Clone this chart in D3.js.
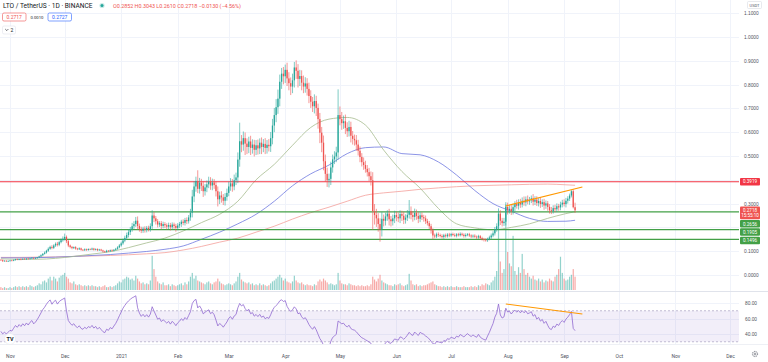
<!DOCTYPE html>
<html>
<head>
<meta charset="utf-8">
<script src="https://cdn.jsdelivr.net/npm/d3@7"></script>
<style>
  body { margin: 0; background: #fff; }
  svg { display: block; font-family: Roboto, "Noto Sans", sans-serif; }
</style>
</head>
<body>
<svg id="chart" width="768" height="362"></svg>
<script>
// LTO / USDT daily, Oct 27 2020 -> Sep 7 2021
const startDay = Date.UTC(2020, 9, 27);
const firstOpen = 0.064;

// closes, one row per week
const closes = [
  0.062, 0.058, 0.060, 0.057, 0.059, 0.061, 0.060,
  0.063, 0.066, 0.064, 0.067, 0.065, 0.068, 0.066,
  0.069, 0.067, 0.070, 0.072, 0.069, 0.071, 0.074,
  0.078, 0.083, 0.089, 0.094, 0.102, 0.110, 0.118,
  0.114, 0.124, 0.131, 0.127, 0.138, 0.146, 0.152,
  0.160, 0.142, 0.124, 0.118, 0.113, 0.117, 0.111,
  0.108, 0.112, 0.106, 0.104, 0.108, 0.105, 0.109,
  0.107, 0.111, 0.106, 0.109, 0.104, 0.107, 0.103,
  0.099, 0.097, 0.102, 0.100, 0.104, 0.102, 0.106,
  0.110, 0.116, 0.124, 0.133, 0.145, 0.156, 0.168,
  0.180, 0.192, 0.205, 0.214, 0.228, 0.206, 0.194,
  0.186, 0.195, 0.189, 0.198, 0.192, 0.205, 0.250,
  0.238, 0.226, 0.212, 0.218, 0.206, 0.214, 0.209,
  0.203, 0.210, 0.201, 0.212, 0.206, 0.198, 0.208,
  0.214, 0.224, 0.219, 0.231, 0.226, 0.242, 0.262,
  0.330, 0.372, 0.395, 0.362, 0.388, 0.375, 0.352,
  0.368, 0.381, 0.393, 0.376, 0.389, 0.378, 0.352,
  0.318, 0.334, 0.326, 0.312, 0.328, 0.345, 0.372,
  0.385, 0.372, 0.398, 0.410, 0.485, 0.562, 0.548,
  0.575, 0.552, 0.538, 0.561, 0.534, 0.548, 0.526,
  0.545, 0.532, 0.556, 0.538, 0.551, 0.534, 0.547,
  0.541, 0.575, 0.628, 0.672, 0.705, 0.741, 0.812,
  0.846, 0.835, 0.862, 0.826, 0.806, 0.792, 0.818,
  0.872, 0.858, 0.824, 0.836, 0.808, 0.792, 0.805,
  0.782, 0.752, 0.728, 0.709, 0.731, 0.702, 0.655,
  0.598, 0.556, 0.478, 0.425, 0.398, 0.404, 0.452,
  0.486, 0.498, 0.515, 0.672, 0.655, 0.638, 0.646,
  0.618, 0.604, 0.622, 0.585, 0.572, 0.566, 0.548,
  0.522, 0.496, 0.474, 0.462, 0.446, 0.432, 0.415,
  0.398, 0.268, 0.252, 0.238, 0.214, 0.192, 0.236,
  0.228, 0.246, 0.258, 0.234, 0.226, 0.238, 0.252,
  0.244, 0.238, 0.256, 0.249, 0.232, 0.241, 0.253,
  0.268, 0.252, 0.244, 0.261, 0.248, 0.236, 0.251,
  0.243, 0.238, 0.226, 0.218, 0.205, 0.188, 0.166,
  0.162, 0.171, 0.168, 0.164, 0.160, 0.167, 0.163,
  0.170, 0.166, 0.172, 0.168, 0.165, 0.171, 0.167,
  0.173, 0.169, 0.164, 0.168, 0.171, 0.166, 0.162,
  0.165, 0.161, 0.158, 0.163, 0.155, 0.151, 0.148,
  0.146, 0.152, 0.158, 0.166, 0.175, 0.192, 0.205,
  0.258, 0.228, 0.218, 0.224, 0.286, 0.272, 0.278,
  0.268, 0.285, 0.298, 0.291, 0.304, 0.296, 0.312,
  0.305, 0.318, 0.309, 0.314, 0.322, 0.308, 0.317,
  0.302, 0.311, 0.298, 0.306, 0.292, 0.301, 0.286,
  0.272, 0.268, 0.281, 0.276, 0.289, 0.284, 0.296,
  0.304, 0.298, 0.312, 0.321, 0.334, 0.352, 0.2848,
  0.2718
];

// wick lengths above / below the body, in thousandths
const upperWick = [
  2, 3, 2, 2, 3, 2, 2,   3, 2, 3, 2, 3, 2, 3,   2, 3, 2, 3, 2, 3, 2,
  3, 4, 3, 5, 4, 6, 5,   7, 5, 6, 8, 6, 7, 10,  14, 6, 5, 4, 4, 3, 4,
  3, 4, 3, 3, 4, 3, 3,   3, 4, 3, 3, 3, 3, 3,   3, 3, 4, 3, 3, 4, 3,
  4, 5, 6, 7, 8, 9, 10,  12, 10, 14, 12, 16, 18, 10,  9, 8, 10, 8, 9, 12, 22,
  14, 10, 9, 8, 9, 10, 8,  8, 10, 9, 9, 8, 9, 10,  9, 8, 10, 9, 11, 10, 16,
  28, 22, 18, 45, 20, 16, 18,  14, 16, 20, 18, 16, 14, 15,  20, 16, 18, 14, 16, 18, 20,
  22, 18, 24, 20, 30, 78, 26,  28, 24, 22, 20, 24, 22, 20,  22, 24, 18, 22, 20, 24, 20,
  24, 26, 28, 30, 34, 38, 30,  24, 28, 22, 30, 26, 24, 28,  23, 30, 28, 26, 24, 30, 26,
  22, 26, 24, 20, 28, 22, 18,  26, 24, 30, 28, 26, 22, 24,  20, 22, 24, 108, 36, 30, 24,
  28, 24, 26, 22, 20, 18, 22,  20, 18, 16, 20, 18, 16, 18,  20, 34, 30, 26, 22, 24, 28,
  18, 16, 14, 20, 14, 16, 18,  14, 18, 16, 14, 16, 14, 20,  47, 20, 16, 18, 14, 16, 12,
  12, 10, 12, 10, 9, 10, 8,  8, 7, 8, 6, 7, 6, 7,  6, 7, 5, 6, 7, 5, 6,
  6, 5, 6, 7, 5, 6, 5,  5, 6, 5, 6, 5, 6, 5,  6, 5, 7, 8, 9, 10, 12,
  22, 14, 12, 16, 20, 18, 16,  16, 14, 12, 18, 14, 16, 14,  18, 12, 16, 14, 12, 18, 14,
  14, 12, 16, 12, 14, 12, 10,  12, 14, 12, 14, 12, 10, 12,  12, 14, 12, 10, 8, 5, 8,
  19
];
const lowerWick = [
  2, 3, 2, 2, 2, 3, 2,   2, 3, 2, 2, 3, 2, 2,   3, 2, 2, 3, 2, 2, 3,
  3, 3, 4, 3, 4, 5, 4,   6, 5, 6, 7, 6, 5, 6,   7, 8, 7, 6, 5, 4, 5,
  4, 3, 4, 3, 3, 4, 3,   3, 3, 4, 3, 4, 3, 3,   4, 3, 3, 3, 3, 3, 3,
  3, 4, 4, 5, 6, 7, 8,   10, 12, 10, 11, 12, 14, 12,  10, 9, 11, 10, 9, 10, 14,
  16, 14, 12, 10, 14, 10, 12,  12, 10, 14, 10, 12, 16, 10,  10, 12, 10, 11, 12, 10, 14,
  20, 24, 22, 18, 20, 22, 24,  18, 20, 16, 18, 20, 16, 22,  30, 20, 22, 18, 20, 16, 14,
  18, 22, 16, 20, 24, 30, 32,  26, 48, 30, 26, 30, 24, 28,  22, 26, 24, 30, 22, 26, 24,
  22, 24, 26, 28, 30, 28, 32,  30, 34, 28, 32, 30, 36, 28,  30, 34, 36, 30, 32, 28, 26,
  28, 30, 26, 24, 30, 34, 40,  44, 40, 38, 34, 28, 30, 26,  22, 20, 24, 30, 26, 28, 24,
  26, 24, 22, 28, 24, 22, 26,  20, 22, 18, 20, 16, 18, 20,  22, 78, 40, 36, 32, 52, 30,
  24, 20, 18, 26, 22, 18, 20,  18, 16, 20, 22, 18, 16, 14,  16, 18, 20, 14, 16, 18, 14,
  12, 14, 12, 10, 12, 14, 16,  8, 7, 8, 6, 7, 8, 6,  6, 7, 6, 5, 6, 7, 5,
  5, 6, 7, 6, 5, 6, 7,  6, 5, 7, 6, 5, 6, 7,  6, 7, 6, 8, 7, 9, 10,
  16, 18, 14, 12, 16, 18, 14,  16, 14, 18, 12, 16, 14, 12,  14, 16, 12, 14, 12, 16, 14,
  12, 14, 16, 12, 18, 14, 16,  14, 12, 10, 12, 10, 14, 12,  12, 10, 14, 12, 10, 8, 5,
  11
];

// daily volume, millions
const volumes = [
  3, 2, 3, 2, 2, 3, 2,   3, 4, 3, 4, 3, 4, 3,   4, 3, 5, 4, 3, 4, 5,
  7, 6, 9, 10, 8, 12, 14,  10, 14, 12, 9, 13, 15, 16,  18, 14, 12, 8, 7, 9, 6,
  5, 6, 5, 4, 5, 4, 5,   4, 5, 4, 4, 3, 4, 3,   4, 5, 3, 3, 4, 3, 4,
  5, 7, 9, 8, 11, 12, 14,  13, 11, 12, 10, 15, 12, 9,  7, 8, 6, 7, 6, 10, 36,
  22, 14, 9, 7, 6, 8, 5,  5, 6, 4, 6, 5, 4, 5,  6, 7, 5, 8, 6, 9, 14,
  18, 12, 15, 10, 9, 8, 7,  6, 8, 9, 7, 6, 8, 9,  12, 9, 7, 6, 5, 6, 7,
  6, 5, 7, 9, 14, 18, 11,  9, 8, 7, 8, 6, 7, 5,  6, 5, 7, 5, 6, 5, 4,
  5, 7, 9, 10, 12, 14, 16,  13, 10, 12, 9, 8, 7, 9,  15, 10, 8, 7, 8, 6, 5,
  6, 5, 5, 4, 6, 5, 9,  11, 9, 12, 10, 8, 6, 7,  6, 5, 6, 18, 10, 7, 6,
  6, 5, 7, 6, 5, 5, 4,  5, 4, 5, 4, 4, 5, 4,  6, 14, 11, 9, 12, 16, 10,
  8, 7, 6, 5, 5, 4, 6,  5, 6, 7, 5, 4, 5, 6,  17, 10, 6, 5, 6, 4, 5,
  4, 5, 5, 6, 7, 8, 9,  6, 5, 4, 4, 3, 4, 3,  4, 3, 4, 3, 3, 4, 3,
  3, 3, 4, 3, 3, 3, 4,  3, 4, 3, 5, 4, 6, 5,  7, 6, 5, 8, 10, 14, 20,
  72, 30, 18, 22, 90, 40, 28,  25, 57, 20, 16, 24, 18, 38,  22, 16, 18, 14, 12, 15, 11,
  10, 12, 9, 11, 8, 10, 9,  12, 10, 9, 14, 16, 22, 35,  18, 12, 10, 11, 14, 16, 22,
  14
];

// moving averages read at sample days (day index from start)
const maDays = [0, 10, 20, 30, 40, 50, 60, 70, 80, 90, 100, 110, 120, 130, 140, 150, 160,
  170, 180, 190, 200, 210, 220, 230, 240, 250, 260, 270, 280, 290, 300, 310, 315];
const ma50 = [0.068, 0.066, 0.066, 0.070, 0.078, 0.088, 0.098, 0.115, 0.135, 0.155, 0.185,
  0.220, 0.255, 0.310, 0.400, 0.465, 0.545, 0.620, 0.655, 0.662, 0.630, 0.525, 0.435,
  0.365, 0.280, 0.215, 0.198, 0.190, 0.200, 0.215, 0.238, 0.258, 0.266];
const ma100 = [0.072, 0.072, 0.073, 0.075, 0.078, 0.082, 0.086, 0.092, 0.099, 0.108, 0.122,
  0.150, 0.180, 0.215, 0.255, 0.310, 0.375, 0.425, 0.462, 0.510, 0.535, 0.538, 0.510,
  0.505, 0.475, 0.420, 0.355, 0.300, 0.268, 0.238, 0.225, 0.226, 0.230];
const ma200 = [0.074, 0.074, 0.075, 0.076, 0.078, 0.080, 0.082, 0.085, 0.089, 0.094, 0.105,
  0.120, 0.138, 0.155, 0.180, 0.205, 0.235, 0.262, 0.285, 0.310, 0.335, 0.345, 0.352,
  0.360, 0.366, 0.371, 0.375, 0.377, 0.379, 0.381, 0.382, 0.379, 0.377];

const resistance = [0.3919];
const supports = [0.2656, 0.1905, 0.1496];
const lastPrice = 0.2718;
const priceTrend = [["2021-07-31", 0.290], ["2021-09-11", 0.370]];
const rsiTrend = [["2021-07-31", 78.7], ["2021-09-11", 65.8]];

const monthLabels = ["Nov", "Dec", "2021", "Feb", "Mar", "Apr", "May", "Jun", "Jul", "Aug", "Sep", "Oct", "Nov", "Dec"];
const priceTicks = [0, 0.1, 0.3, 0.5, 0.6, 0.7, 0.8, 0.9, 1.0, 1.1];
const gridTicks = [0, 0.1, 0.2, 0.3, 0.4, 0.5, 0.6, 0.7, 0.8, 0.9, 1.0, 1.1];
const rsiTicks = [80, 60, 40];
const rsiSeed = [0.0018, 0.0022];

const upColor = `#26a69a`;
const downColor = `#ef5350`;
const plotRight = 739;
const mainBottom = 291;
const rsiTop = 292;
const rsiBottom = 344;

const dayDate = i => new Date(startDay + i * 864e5);

const data = closes.map((c, i) => {
    const open = i === 0 ? firstOpen : closes[i - 1];
    return {
        date: dayDate(i),
        open,
        close: c,
        high: Math.max(open, c) + upperWick[i] / 1000,
        low: Math.min(open, c) - lowerWick[i] / 1000,
        volume: volumes[i]
    };
});

// Wilder RSI 14
let avgGain = rsiSeed[0];
let avgLoss = rsiSeed[1];
const rsi = data.map(d => {
    const ch = d.close - d.open;
    avgGain = (avgGain * 13 + Math.max(ch, 0)) / 14;
    avgLoss = (avgLoss * 13 + Math.max(-ch, 0)) / 14;
    return { date: d.date, value: 100 - 100 / (1 + avgGain / avgLoss) };
});

const x = d3.scaleUtc()
    .domain([Date.UTC(2020, 10, 1), Date.UTC(2021, 11, 1)])
    .range([10, 730]);
const y = d3.scaleLinear().domain([0, 1.1]).range([275, 13.2]);
const yVol = d3.scaleLinear().domain([0, 100]).range([290, 195]);
const yRsi = d3.scaleLinear().domain([80, 40]).range([303, 334]);

const svg = d3.select(`#chart`);
const defs = svg.append(`defs`);
defs.append(`clipPath`).attr(`id`, `mainClip`)
    .append(`rect`).attr(`x`, 0).attr(`y`, 0).attr(`width`, plotRight).attr(`height`, mainBottom);
defs.append(`clipPath`).attr(`id`, `rsiClip`)
    .append(`rect`).attr(`x`, 0).attr(`y`, rsiTop).attr(`width`, plotRight).attr(`height`, rsiBottom - rsiTop);

svg.append(`rect`).attr(`width`, 768).attr(`height`, 362).attr(`fill`, `#fff`);

const months = d3.utcMonth.range(Date.UTC(2020, 10, 1), Date.UTC(2021, 11, 2));

// grid
const grid = svg.append(`g`).attr(`stroke`, `#f0f3fa`).attr(`stroke-width`, 1);
grid.selectAll(`.vg`).data(months).enter().append(`line`)
    .attr(`x1`, d => Math.round(x(d)) + 0.5).attr(`x2`, d => Math.round(x(d)) + 0.5)
    .attr(`y1`, 0).attr(`y2`, rsiBottom);
grid.selectAll(`.hg`).data(gridTicks).enter().append(`line`)
    .attr(`x1`, 0).attr(`x2`, plotRight)
    .attr(`y1`, d => Math.round(y(d)) + 0.5).attr(`y2`, d => Math.round(y(d)) + 0.5);
grid.selectAll(`.rg`).data(rsiTicks).enter().append(`line`)
    .attr(`x1`, 0).attr(`x2`, plotRight)
    .attr(`y1`, d => Math.round(yRsi(d)) + 0.5).attr(`y2`, d => Math.round(yRsi(d)) + 0.5);

// main pane
const main = svg.append(`g`).attr(`clip-path`, `url(#mainClip)`);

main.selectAll(`.vol`).data(data).enter().append(`rect`)
    .attr(`x`, d => x(d.date) - 0.6)
    .attr(`width`, 1.2)
    .attr(`y`, d => yVol(d.volume))
    .attr(`height`, d => yVol(0) - yVol(d.volume))
    .attr(`fill`, d => d.close >= d.open ? upColor : downColor)
    .attr(`opacity`, 0.5);

const maLine = vals => d3.line()
    .x((d, i) => x(dayDate(maDays[i])))
    .y(d => y(d))
    .curve(d3.curveMonotoneX)(vals);

main.append(`path`).attr(`d`, maLine(ma200)).attr(`fill`, `none`).attr(`stroke`, `#f4a09a`).attr(`stroke-width`, 0.8);
main.append(`path`).attr(`d`, maLine(ma100)).attr(`fill`, `none`).attr(`stroke`, `#6f78e0`).attr(`stroke-width`, 0.8);
main.append(`path`).attr(`d`, maLine(ma50)).attr(`fill`, `none`).attr(`stroke`, `#a6bb8e`).attr(`stroke-width`, 0.8);

main.selectAll(`.res`).data(resistance).enter().append(`line`)
    .attr(`x1`, 0).attr(`x2`, plotRight).attr(`y1`, d => y(d)).attr(`y2`, d => y(d))
    .attr(`stroke`, `#f23645`).attr(`stroke-width`, 1.2);
main.selectAll(`.sup`).data(supports).enter().append(`line`)
    .attr(`x1`, 0).attr(`x2`, plotRight).attr(`y1`, d => y(d)).attr(`y2`, d => y(d))
    .attr(`stroke`, `#43a047`).attr(`stroke-width`, 1.2);

const candles = main.selectAll(`.candle`).data(data).enter().append(`g`);
candles.append(`line`)
    .attr(`x1`, d => x(d.date)).attr(`x2`, d => x(d.date))
    .attr(`y1`, d => y(d.high)).attr(`y2`, d => y(d.low))
    .attr(`stroke`, d => d.close >= d.open ? upColor : downColor)
    .attr(`stroke-width`, 0.6);
candles.append(`rect`)
    .attr(`x`, d => x(d.date) - 0.65)
    .attr(`width`, 1.3)
    .attr(`y`, d => y(Math.max(d.open, d.close)))
    .attr(`height`, d => Math.max(0.6, Math.abs(y(d.open) - y(d.close))))
    .attr(`fill`, d => d.close >= d.open ? upColor : downColor);

const trendLine = d3.line()
    .x(d => x(new Date(d[0] + `T00:00:00Z`)));
main.append(`path`)
    .attr(`d`, trendLine.y(d => y(d[1]))(priceTrend))
    .attr(`stroke`, `#ff9800`).attr(`stroke-width`, 1.1).attr(`fill`, `none`);

// pane separators
svg.append(`line`).attr(`x1`, 0).attr(`x2`, 768).attr(`y1`, mainBottom + 0.5).attr(`y2`, mainBottom + 0.5)
    .attr(`stroke`, `#e0e3eb`);
svg.append(`line`).attr(`x1`, 0).attr(`x2`, 768).attr(`y1`, rsiBottom + 0.5).attr(`y2`, rsiBottom + 0.5)
    .attr(`stroke`, `#eef0f5`);

// RSI pane
const rsiG = svg.append(`g`).attr(`clip-path`, `url(#rsiClip)`);
rsiG.append(`rect`)
    .attr(`x`, 0).attr(`width`, plotRight)
    .attr(`y`, yRsi(70)).attr(`height`, yRsi(30) - yRsi(70))
    .attr(`fill`, `#7e57c2`).attr(`opacity`, 0.1);
rsiG.selectAll(`.band`).data([70, 30]).enter().append(`line`)
    .attr(`x1`, 0).attr(`x2`, plotRight)
    .attr(`y1`, d => yRsi(d)).attr(`y2`, d => yRsi(d))
    .attr(`stroke`, `#a9a2c0`).attr(`stroke-width`, 0.7).attr(`stroke-dasharray`, `2,2`);
rsiG.append(`path`)
    .attr(`d`, d3.line().x(d => x(d.date)).y(d => yRsi(d.value))(rsi))
    .attr(`fill`, `none`).attr(`stroke`, `#9068d0`).attr(`stroke-width`, 0.8);
rsiG.append(`path`)
    .attr(`d`, trendLine.y(d => yRsi(d[1]))(rsiTrend))
    .attr(`stroke`, `#ff9800`).attr(`stroke-width`, 1.1).attr(`fill`, `none`);

// TV logo
svg.append(`circle`).attr(`cx`, 10).attr(`cy`, 339).attr(`r`, 5.5)
    .attr(`fill`, `#fff`).attr(`stroke`, `#e6e8ee`).attr(`stroke-width`, 0.6);
svg.append(`text`).attr(`x`, 10).attr(`y`, 341).attr(`text-anchor`, `middle`)
    .attr(`font-size`, 5.5).attr(`font-weight`, 700).attr(`fill`, `#131722`).text(`TV`);

// time axis
const xAxis = d3.axisBottom(x)
    .tickValues(months)
    .tickSize(0)
    .tickFormat((d, i) => monthLabels[i]);
const xg = svg.append(`g`).attr(`transform`, `translate(0, 351)`).call(xAxis);
xg.select(`.domain`).remove();
xg.selectAll(`text`).attr(`font-size`, 5).attr(`fill`, `#50535e`).attr(`font-family`, `Roboto, sans-serif`);

// gear icon
svg.append(`circle`).attr(`cx`, 755).attr(`cy`, 354).attr(`r`, 2.6)
    .attr(`fill`, `none`).attr(`stroke`, `#6a6d78`).attr(`stroke-width`, 0.9).attr(`stroke-dasharray`, `1.2,0.6`);
svg.append(`circle`).attr(`cx`, 755).attr(`cy`, 354).attr(`r`, 1)
    .attr(`fill`, `none`).attr(`stroke`, `#6a6d78`).attr(`stroke-width`, 0.7);

// price axis
const yAxis = d3.axisRight(y).tickValues(priceTicks).tickSize(0).tickFormat(d3.format(`.4f`));
const yg = svg.append(`g`).attr(`transform`, `translate(744, 0)`).call(yAxis);
yg.select(`.domain`).remove();
yg.selectAll(`text`).attr(`x`, 0).attr(`font-size`, 4.8).attr(`fill`, `#50535e`);

const rAxis = d3.axisRight(yRsi).tickValues(rsiTicks).tickSize(0).tickFormat(d3.format(`.2f`));
const rg = svg.append(`g`).attr(`transform`, `translate(745, 0)`).call(rAxis);
rg.select(`.domain`).remove();
rg.selectAll(`text`).attr(`x`, 0).attr(`font-size`, 4.8).attr(`fill`, `#50535e`);

// USDT tag
svg.append(`rect`).attr(`x`, 747.5).attr(`y`, 1.5).attr(`width`, 14).attr(`height`, 7)
    .attr(`rx`, 1).attr(`fill`, `#fff`).attr(`stroke`, `#d1d4dc`).attr(`stroke-width`, 0.5);
svg.append(`text`).attr(`x`, 754.5).attr(`y`, 6.7).attr(`text-anchor`, `middle`)
    .attr(`font-size`, 4).attr(`fill`, `#50535e`).text(`USDT`);

// right-side labels, stacked so they do not overlap
const labels = [
    { v: resistance[0], text: [d3.format(`.4f`)(resistance[0])], fill: `#f23645` },
    { v: lastPrice, text: [d3.format(`.4f`)(lastPrice), `15:55:10`], fill: `#ef5350` },
    ...supports.map(s => ({ v: s, text: [d3.format(`.4f`)(s)], fill: `#43a047` }))
].sort((a, b) => y(a.v) - y(b.v));
let lastBottom = -Infinity;
labels.forEach(l => {
    const h = l.text.length === 2 ? 12.7 : 7.5;
    let top = y(l.v) - 3.75;
    if (top < lastBottom + 0.8) top = lastBottom + 0.8;
    l.top = top;
    l.h = h;
    lastBottom = top + h;
});
const lab = svg.selectAll(`.plabel`).data(labels).enter().append(`g`);
lab.append(`rect`)
    .attr(`x`, 740).attr(`width`, 20)
    .attr(`y`, d => d.top).attr(`height`, d => d.h)
    .attr(`rx`, 1).attr(`fill`, d => d.fill);
lab.each(function (d) {
    d3.select(this).selectAll(`text`).data(d.text).enter().append(`text`)
        .attr(`x`, 750).attr(`y`, (t, i) => d.top + 5.5 + i * 5)
        .attr(`text-anchor`, `middle`).attr(`font-size`, 4.6).attr(`fill`, `#fff`)
        .text(t => t);
});

// header
const head = svg.append(`g`);
head.append(`text`).attr(`x`, 3).attr(`y`, 8).attr(`font-size`, 6.6).attr(`fill`, `#131722`)
    .text(`LTO / TetherUS · 1D · BINANCE`);
head.append(`circle`).attr(`cx`, 102).attr(`cy`, 5.5).attr(`r`, 2.6).attr(`fill`, `#26a69a`).attr(`opacity`, 0.25);
head.append(`circle`).attr(`cx`, 102).attr(`cy`, 5.5).attr(`r`, 1.5).attr(`fill`, `#26a69a`);
head.append(`text`).attr(`x`, 113).attr(`y`, 7.8).attr(`font-size`, 5.4).attr(`fill`, `#ef5350`)
    .text(`O0.2852 H0.3043 L0.2610 C0.2718 −0.0130 (−4.56%)`);

head.append(`rect`).attr(`x`, 2.5).attr(`y`, 13).attr(`width`, 23.5).attr(`height`, 8)
    .attr(`rx`, 1.5).attr(`fill`, `#fff`).attr(`stroke`, `#ef5350`).attr(`stroke-width`, 0.6);
head.append(`text`).attr(`x`, 14.2).attr(`y`, 18.9).attr(`text-anchor`, `middle`)
    .attr(`font-size`, 5).attr(`fill`, `#ef5350`).text(`0.2717`);
head.append(`text`).attr(`x`, 37).attr(`y`, 18.6).attr(`text-anchor`, `middle`)
    .attr(`font-size`, 4.2).attr(`fill`, `#131722`).text(`0.0010`);
head.append(`rect`).attr(`x`, 48).attr(`y`, 13).attr(`width`, 23.5).attr(`height`, 8)
    .attr(`rx`, 1.5).attr(`fill`, `#fff`).attr(`stroke`, `#2962ff`).attr(`stroke-width`, 0.6);
head.append(`text`).attr(`x`, 59.7).attr(`y`, 18.9).attr(`text-anchor`, `middle`)
    .attr(`font-size`, 5).attr(`fill`, `#2962ff`).text(`0.2727`);

head.append(`rect`).attr(`x`, 2.5).attr(`y`, 26).attr(`width`, 13).attr(`height`, 8)
    .attr(`rx`, 1.5).attr(`fill`, `#fff`).attr(`stroke`, `#e0e3eb`).attr(`stroke-width`, 0.6);
head.append(`path`).attr(`d`, `M5.2,29 L6.8,30.6 L8.4,29`)
    .attr(`fill`, `none`).attr(`stroke`, `#131722`).attr(`stroke-width`, 0.6);
head.append(`text`).attr(`x`, 10.5).attr(`y`, 31.8).attr(`font-size`, 5).attr(`fill`, `#131722`).text(`2`);
</script>
</body>
</html>
